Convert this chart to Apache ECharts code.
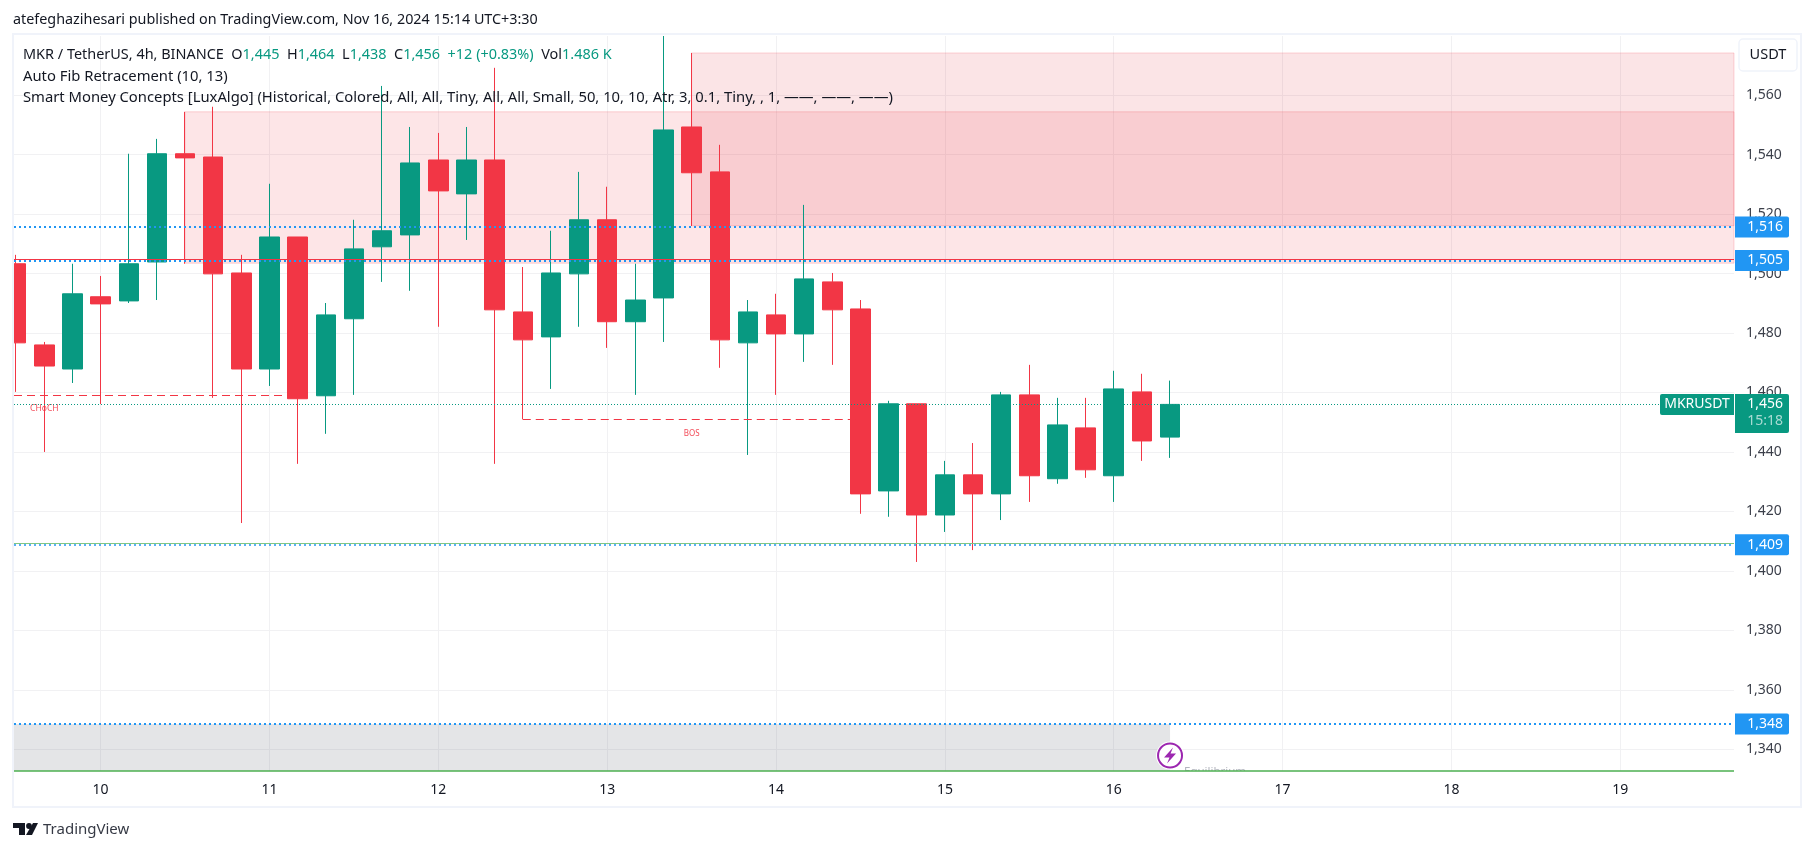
<!DOCTYPE html>
<html>
<head>
<meta charset="utf-8">
<title>MKR / TetherUS</title>
<style>
html, body { margin: 0; padding: 0; background: #fff; }
#chart { width: 1814px; height: 851px; }
</style>
<script src="https://cdn.jsdelivr.net/npm/echarts@6/dist/echarts.min.js"></script>
</head>
<body>
<div id="chart"></div>
<script>
// 4h candles
var opens = [1503.3,1476.0,1467.9,1492.2,1490.8,1503.9,1540.3,1539.2,1500.2,1467.9,1512.3,1458.9,1484.8,1509.0,1513.0,1538.2,1526.8,1538.2,1487.1,1478.7,1499.9,1518.1,1483.8,1491.8,1549.3,1534.2,1476.7,1486.1,1479.7,1497.2,1488.1,1426.9,1456.2,1418.8,1432.3,1425.9,1459.2,1431.0,1448.1,1432.0,1460.2,1445];
var closes = [1476.7,1468.9,1493.2,1489.8,1503.3,1540.3,1538.9,1499.9,1467.9,1512.3,1457.9,1486.1,1508.3,1514.4,1537.2,1527.8,1538.2,1487.8,1477.7,1500.2,1518.1,1483.8,1491.1,1548.3,1533.9,1477.7,1487.1,1479.7,1498.2,1487.8,1425.9,1456.2,1418.8,1432.3,1425.9,1459.2,1432.0,1449.1,1434.0,1461.2,1443.7,1456];
var lows = [1460.2,1440.0,1463.2,1456.1,1490.1,1491.1,1503.3,1458.2,1416.1,1462.2,1436.0,1446.1,1459.2,1497.2,1494.2,1482.1,1511.3,1436.0,1451.0,1461.2,1482.1,1475.0,1459.2,1477.0,1516.0,1468.3,1439.0,1459.2,1470.3,1469.3,1419.2,1418.2,1403.0,1413.1,1407.0,1417.1,1423.2,1429.3,1431.3,1423.2,1437.0,1438];
// the wick of bar 23 runs off the top of the pane, so it stops at the axis top
var highs = [1506.3,1477.0,1503.3,1499.2,1540.3,1545.3,1554.4,1556.1,1506.3,1530.2,1512.3,1490.1,1518.1,1563.1,1549.3,1547.3,1549.3,1569.2,1502.2,1514.4,1534.2,1529.2,1503.3,1579.9,1574.2,1543.3,1491.1,1493.2,1523.1,1500.2,1491.1,1457.2,1456.2,1437.0,1443.0,1460.2,1469.3,1458.2,1458.2,1467.3,1466.3,1464];

var dayTicks = [3, 9, 15, 21, 27, 33, 39, 45, 51, 57];
var dayLabels = ['10', '11', '12', '13', '14', '15', '16', '17', '18', '19'];
var priceTicks = [1340, 1360, 1380, 1400, 1420, 1440, 1460, 1480, 1500, 1520, 1540, 1560];

var levels = [1515.7, 1504.4, 1408.8, 1348.5];
var levelLabels = ['1,516', '1,505', '1,409', '1,348'];
var lastPrice = 1456;
var xMin = -0.078, xMax = 61.04;
var yMin = 1332.7, yMax = 1579.9;

var GREEN = '#089981', RED = '#f23645', BLUE = '#2196f3';
var FONT = '"Noto Sans", sans-serif';
var GRID = '#f1f1f3';

function fmt(v) {
    return String(v).replace(/(\d)(\d{3})$/, '$1,$2');
}

var candles = opens.map(function (o, i) {
    return [i, o, closes[i], lows[i], highs[i]];
});

function hline(price, color, width, type) {
    return { yAxis: price, lineStyle: { color: color, width: width, type: type } };
}

function hseg(x0, x1, price, color) {
    return [
        { coord: [x0, price], lineStyle: { color: color, width: 1, type: [8, 5] } },
        { coord: [x1, price] }
    ];
}

function zone(x0, x1, top, bottom, fill, border) {
    return [
        { coord: [x0, top], itemStyle: { color: fill, borderColor: border, borderWidth: 1 } },
        { coord: [x1, bottom] }
    ];
}

var pink = 'rgba(242,54,69,0.13)', pinkLine = 'rgba(242,54,69,0.2)';

// text notes drawn on the chart
var notes = [
    [1, 1454.5, 'CHoCH', 'rgba(242,54,69,0.9)', 8.5],
    [24, 1446.1, 'BOS', 'rgba(242,54,69,0.9)', 8],
    [42.6, 1332.3, 'Equilibrium', '#b2b5be', 11.5]
];

var myChart = echarts.init(document.getElementById('chart'));

option = {
    animation: false,
    backgroundColor: '#fff',
    textStyle: { fontFamily: FONT },
    grid: { left: 14, right: 80, top: 36, bottom: 80 },
    xAxis: {
        type: 'value',
        min: xMin,
        max: xMax,
        axisLine: { show: false },
        axisTick: { show: false, customValues: dayTicks },
        splitLine: { show: true, lineStyle: { color: GRID, width: 1 } },
        axisLabel: {
            customValues: dayTicks,
            margin: 12,
            color: '#131722',
            fontSize: 14,
            fontFamily: FONT,
            formatter: function (v) { return dayLabels[dayTicks.indexOf(v)]; }
        }
    },
    yAxis: {
        type: 'value',
        position: 'right',
        min: yMin,
        max: yMax,
        axisLine: { show: false },
        axisTick: { show: false, customValues: priceTicks },
        splitLine: { show: true, lineStyle: { color: GRID, width: 1 } },
        axisLabel: {
            customValues: priceTicks,
            margin: 12,
            color: '#3b3f4a',
            fontSize: 14,
            fontFamily: FONT,
            formatter: fmt
        }
    },
    series: [
        {
            // zones and levels, behind the candles
            type: 'line',
            data: [],
            z: 1,
            silent: true,
            markArea: {
                silent: true,
                data: [
                    zone(6, xMax, 1554.4, 1503.5, pink, pinkLine),
                    zone(24, xMax, 1574.2, 1516.1, 'rgba(225,50,60,0.13)', pinkLine),
                    zone(xMin, 41, 1348.5, yMin, 'rgba(120,123,134,0.2)', 'rgba(120,123,134,0)')
                ]
            },
            markLine: {
                silent: true,
                symbol: 'none',
                label: { show: false },
                data: [
                    hline(1504.7, RED, 1, 'solid'),
                    hline(levels[0], BLUE, 2, [2, 3]),
                    hline(levels[1], BLUE, 2, [2, 3]),
                    hline(1409.2, '#81c784', 1, 'solid'),
                    hline(levels[2], BLUE, 1.5, [2, 3]),
                    hline(levels[3], BLUE, 2, [2, 3]),
                    hline(1332.9, '#4caf50', 1.5, 'solid'),
                    hline(lastPrice, GREEN, 1, [1, 2]),
                    hseg(xMin, 10, 1459.1, RED),
                    hseg(18, 30, 1451, RED)
                ]
            }
        },
        {
            type: 'candlestick',
            z: 3,
            barWidth: 20,
            silent: true,
            encode: { x: 0, y: [1, 2, 3, 4] },
            data: candles,
            itemStyle: {
                color: GREEN,
                color0: RED,
                borderColor: GREEN,
                borderColor0: RED,
                borderWidth: 1
            }
        },
        {
            type: 'custom',
            z: 4,
            clip: true,
            silent: true,
            data: notes.map(function (n) { return [n[0], n[1]]; }),
            renderItem: function (params, api) {
                var n = notes[params.dataIndex];
                var p = api.coord([api.value(0), api.value(1)]);
                return {
                    type: 'text',
                    x: p[0],
                    y: p[1],
                    style: { text: n[2], fill: n[3], font: n[4] + 'px ' + FONT, textAlign: 'center', textVerticalAlign: 'middle' }
                };
            }
        },
        {
            // the lightning badge
            type: 'custom',
            z: 5,
            silent: true,
            data: [[41, 1337.9]],
            renderItem: function (params, api) {
                var p = api.coord([api.value(0), api.value(1)]);
                return {
                    type: 'group',
                    x: p[0],
                    y: p[1],
                    children: [
                        { type: 'circle', shape: { r: 14 }, style: { fill: '#fff' } },
                        { type: 'circle', shape: { r: 12 }, style: { fill: '#fff', stroke: '#9c27b0', lineWidth: 2 } },
                        { type: 'polygon', shape: { points: [[3, -8], [-6, 2], [-0.5, 2], [-3, 8], [6, -2], [0.5, -2]] }, style: { fill: '#9c27b0' } }
                    ]
                };
            }
        },
        {
            // price tags over the right scale
            type: 'custom',
            z: 6,
            silent: true,
            data: levels.map(function (p) { return [xMax, p]; }),
            renderItem: function (params, api) {
                var p = api.coord([api.value(0), api.value(1)]);
                return {
                    type: 'group',
                    x: p[0],
                    y: p[1],
                    children: [
                        { type: 'rect', shape: { x: 1, y: -10.5, width: 54, height: 21, r: [0, 2, 2, 0] }, style: { fill: BLUE } },
                        { type: 'text', x: 49, y: 0, style: { text: levelLabels[params.dataIndex], fill: '#fff', font: '14px ' + FONT, textAlign: 'right', textVerticalAlign: 'middle' } }
                    ]
                };
            }
        },
        {
            type: 'custom',
            z: 6,
            silent: true,
            data: [[xMax, lastPrice]],
            renderItem: function (params, api) {
                var p = api.coord([api.value(0), api.value(1)]);
                return {
                    type: 'group',
                    x: p[0],
                    y: p[1],
                    children: [
                        { type: 'rect', shape: { x: -74, y: -10.5, width: 74, height: 21, r: [2, 0, 0, 2] }, style: { fill: GREEN } },
                        { type: 'text', x: -37, y: 0, style: { text: 'MKRUSDT', fill: '#fff', font: '14px ' + FONT, textAlign: 'center', textVerticalAlign: 'middle' } },
                        { type: 'rect', shape: { x: 1, y: -10.5, width: 54, height: 39, r: [0, 2, 2, 0] }, style: { fill: GREEN } },
                        { type: 'text', x: 49, y: 0, style: { text: fmt(lastPrice), fill: '#fff', font: '14px ' + FONT, textAlign: 'right', textVerticalAlign: 'middle' } },
                        { type: 'text', x: 49, y: 17, style: { text: '15:18', fill: 'rgba(255,255,255,0.65)', font: '14px ' + FONT, textAlign: 'right', textVerticalAlign: 'middle' } }
                    ]
                };
            }
        }
    ],
    graphic: [
        // the first candle is cut by the left edge of the pane
        { type: 'rect', silent: true, z: 9, shape: { x: 0, y: 34, width: 13, height: 773 }, style: { fill: '#fff' } },
        { type: 'rect', silent: true, z: 10, shape: { x: 13, y: 34, width: 1788, height: 773 }, style: { fill: 'none', stroke: '#f0f3fa', lineWidth: 2 } },
        { type: 'rect', silent: true, z: 11, shape: { x: 1739, y: 39, width: 58, height: 32, r: 4 }, style: { fill: '#fff', stroke: '#f0f3fa', lineWidth: 1.5 } },
        { type: 'text', silent: true, z: 12, x: 1768, y: 55, style: { text: 'USDT', fill: '#131722', font: '14.5px ' + FONT, textAlign: 'center', textVerticalAlign: 'middle' } },
        { type: 'text', silent: true, z: 12, x: 13, y: 20, style: { text: 'atefeghazihesari published on TradingView.com, Nov 16, 2024 15:14 UTC+3:30', fill: '#131722', font: '14.35px ' + FONT, textVerticalAlign: 'middle' } },
        {
            type: 'text', silent: true, z: 12, x: 23, y: 54.5,
            style: {
                text: 'MKR / TetherUS, 4h, BINANCE  O{g|1,445}  H{g|1,464}  L{g|1,438}  C{g|1,456}  {g|+12 (+0.83%)}  Vol{g|1.486 K}',
                fill: '#131722', font: '14.45px ' + FONT, textVerticalAlign: 'middle',
                rich: { g: { fill: GREEN, font: '14.45px ' + FONT } }
            }
        },
        { type: 'text', silent: true, z: 12, x: 23, y: 76.5, style: { text: 'Auto Fib Retracement (10, 13)', fill: '#131722', font: '14.8px ' + FONT, textVerticalAlign: 'middle' } },
        { type: 'text', silent: true, z: 12, x: 23, y: 97.5, style: { text: 'Smart Money Concepts [LuxAlgo] (Historical, Colored, All, All, Tiny, All, All, Small, 50, 10, 10, Atr, 3, 0.1, Tiny, , 1, \u2014\u2014, \u2014\u2014, \u2014\u2014)', fill: '#131722', font: '14.8px ' + FONT, textVerticalAlign: 'middle' } },
        // TradingView logo
        { type: 'polygon', silent: true, z: 12, shape: { points: [[13, 823], [25, 823], [25, 835], [19, 835], [19, 828], [13, 828]] }, style: { fill: '#131722' } },
        { type: 'circle', silent: true, z: 12, shape: { cx: 29, cy: 826, r: 2.9 }, style: { fill: '#131722' } },
        { type: 'polygon', silent: true, z: 12, shape: { points: [[33, 823], [38, 823], [32, 835], [26, 835]] }, style: { fill: '#131722' } },
        { type: 'text', silent: true, z: 12, x: 43, y: 830, style: { text: 'TradingView', fill: '#363a45', font: '15px ' + FONT, textVerticalAlign: 'middle' } }
    ]
};

myChart.setOption(option);
</script>
</body>
</html>
